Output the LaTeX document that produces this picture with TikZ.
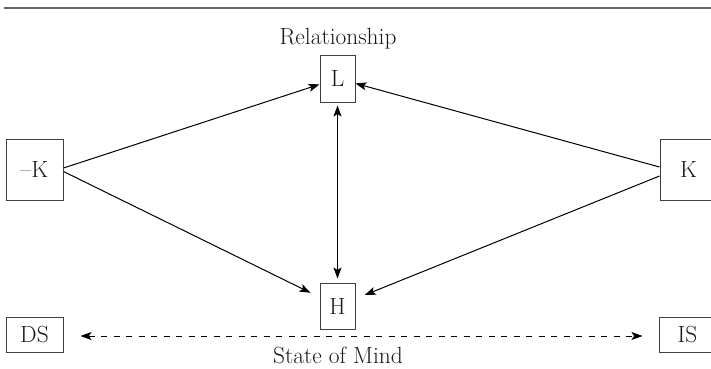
\documentclass[tikz,border=0pt]{standalone}
\usetikzlibrary{arrows.meta}
\begin{document}
\begin{tikzpicture}[x=1pt,y=-1pt,
  box/.style={draw=black!75,line width=1pt,inner sep=0pt,font=\fontsize{23.4}{28}\selectfont,text=black!90},
  lbl/.style={inner sep=0pt,anchor=base,font=\fontsize{23.4}{28}\selectfont,text=black!90},
  arr/.style={line width=1pt,-{Stealth[length=11pt,width=8pt,inset=2.5pt]}},
  darr/.style={line width=1pt,{Stealth[length=11pt,width=8pt,inset=2.5pt]}-{Stealth[length=11pt,width=8pt,inset=2.5pt]}}]
\useasboundingbox (0,0) rectangle (711,368);
\draw[black!60,line width=2pt] (4,8) -- (711,8);
\node[box,minimum width=35pt,minimum height=47pt] (L) at (337.5,78.5) {L};
\node[box,minimum width=35pt,minimum height=46pt] (H) at (337.5,306) {H};
\node[box,minimum width=57pt,minimum height=61pt] (mK) at (34.5,169.5) {--K};
\node[box,minimum width=57pt,minimum height=61pt] (K) at (688.5,169.5) {K};
\node[box,minimum width=57pt,minimum height=35pt] (DS) at (34.5,334.5) {DS};
\node[box,minimum width=57pt,minimum height=35pt] (IS) at (687.5,334.5) {IS};
\node[lbl] (rel) at (338,44) {Relationship};
\node[lbl] (som) at (338,363) {State of Mind};
\draw[arr] ([yshift=1.5pt]mK.east) -- (L);
\draw[arr] ([yshift=2.5pt]K.west) -- (L);
\draw[arr,shorten >=10pt] ([yshift=-2pt]mK.east) -- (H);
\draw[arr,shorten >=10pt] ([yshift=-6.5pt]K.west) -- (H);
\draw[darr,shorten <=3pt,shorten >=4pt] (L.south) -- (H.north);
\draw[darr,dashed,dash pattern=on 6pt off 6.5pt,shorten <=17pt,shorten >=16pt] ([yshift=-1.5pt]DS.east) -- ([yshift=-1.5pt]IS.west);
\end{tikzpicture}
\end{document}
